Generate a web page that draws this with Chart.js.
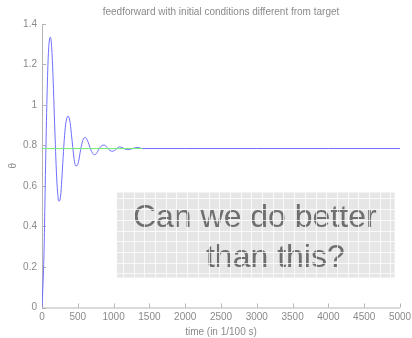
<!DOCTYPE html>
<html>
<head>
<meta charset="utf-8">
<script src="https://cdn.jsdelivr.net/npm/chart.js@4.4.1/dist/chart.umd.min.js"></script>
<style>
  html, body { margin: 0; padding: 0; background: #ffffff; }
  #wrap { width: 412px; height: 338px; position: relative; }
</style>
</head>
<body>
<div id="wrap"><canvas id="c" width="412" height="338"></canvas></div>
<script>
// Simulated joint angle under feedforward control (time in 1/100 s)
const timeSteps = [0, 10, 20, 30, 40, 50, 60, 70, 80, 90, 100, 115, 130, 145, 160, 175, 190, 205, 220, 235, 250,
  265, 280, 300, 320, 340, 365, 390, 410, 430, 450, 470, 490, 510, 540, 570, 605, 640, 670, 700, 730, 760,
  800, 840, 870, 910, 950, 990, 1030, 1080, 1120, 1170, 1220, 1280, 1340, 1400, 2000, 3000, 4000, 5000];
const thetaValues = [0, 0.08, 0.17, 0.30, 0.50, 0.70, 0.88, 1.04, 1.17, 1.26, 1.31, 1.335, 1.31, 1.22, 1.08, 0.92, 0.77,
  0.64, 0.56, 0.525, 0.53, 0.57, 0.65, 0.77, 0.87, 0.925, 0.945, 0.92, 0.86, 0.79, 0.73, 0.70, 0.70, 0.72,
  0.78, 0.825, 0.84, 0.82, 0.79, 0.765, 0.755, 0.76, 0.785, 0.80, 0.802, 0.79, 0.775, 0.772, 0.78, 0.793,
  0.79, 0.781, 0.78, 0.787, 0.79, 0.785, 0.785, 0.785, 0.785, 0.785];

// Target angle
const targetTimes = [0, 1400];
const targetValues = [0.785, 0.785];

// Axis ticks
const xTicks = [0, 500, 1000, 1500, 2000, 2500, 3000, 3500, 4000, 4500, 5000];
const yTicks = [0, 0.2, 0.4, 0.6, 0.8, 1, 1.2, 1.4];

const titleText = 'feedforward with initial conditions different from target';
const xLabel = 'time (in 1/100 s)';
const yLabel = 'θ';
const noteLines = ['Can we do better', 'than this?'];

const FONT = '"Liberation Sans", Arial, Helvetica, sans-serif';
const axisColor = '#b4b4b4';
const textColor = '#8a8a8a';

function toPoints(xs, ys) { return xs.map((x, i) => ({ x: x, y: ys[i] })); }

// Inward tick marks, axis lines, title and the note box
const decorPlugin = {
  id: 'decor',
  beforeDatasetsDraw(chart) {
    const { ctx, chartArea: a, scales: { x, y } } = chart;
    ctx.save();
    ctx.strokeStyle = axisColor;
    ctx.lineWidth = 1;
    ctx.beginPath();
    ctx.moveTo(a.left + 0.5, a.top);
    ctx.lineTo(a.left + 0.5, a.bottom + 0.5);
    ctx.lineTo(a.right, a.bottom + 0.5);
    xTicks.forEach(v => {
      const px = Math.round(x.getPixelForValue(v)) + 0.5;
      ctx.moveTo(px, a.bottom);
      ctx.lineTo(px, a.bottom - 4);
    });
    yTicks.forEach(v => {
      const py = Math.round(y.getPixelForValue(v)) + 0.5;
      ctx.moveTo(a.left, py);
      ctx.lineTo(a.left + 4, py);
    });
    ctx.stroke();

    ctx.fillStyle = textColor;
    ctx.font = '10px ' + FONT;
    ctx.textAlign = 'center';
    ctx.textBaseline = 'middle';
    ctx.fillText(titleText, (a.left + a.right) / 2, 12);
    ctx.restore();
  },
  afterDatasetsDraw(chart) {
    const { ctx, scales: { x, y } } = chart;
    const x0 = x.getPixelForValue(1047), x1 = x.getPixelForValue(4925);
    const y0 = y.getPixelForValue(0.568), y1 = y.getPixelForValue(0.148);
    ctx.save();
    ctx.fillStyle = '#e6e6e6';
    ctx.fillRect(x0, y0, x1 - x0, y1 - y0);

    ctx.fillStyle = '#6e6e6e';
    ctx.font = '32px ' + FONT;
    ctx.textAlign = 'left';
    ctx.textBaseline = 'alphabetic';
    ctx.fillText(noteLines[0], x.getPixelForValue(1270), y.getPixelForValue(0.400));
    ctx.fillText(noteLines[1], x.getPixelForValue(2290), y.getPixelForValue(0.200));

    // light hatch grid over the note
    ctx.beginPath();
    ctx.rect(x0, y0, x1 - x0, y1 - y0);
    ctx.clip();
    ctx.strokeStyle = 'rgba(255,255,255,0.75)';
    ctx.lineWidth = 1;
    ctx.beginPath();
    for (let gx = x0 + 6; gx < x1; gx += 10.7) {
      ctx.moveTo(Math.round(gx) + 0.5, y0);
      ctx.lineTo(Math.round(gx) + 0.5, y1);
    }
    for (let gy = y0 + 6; gy < y1; gy += 10.7) {
      ctx.moveTo(x0, Math.round(gy) + 0.5);
      ctx.lineTo(x1, Math.round(gy) + 0.5);
    }
    ctx.stroke();
    ctx.restore();
  }
};

new Chart(document.getElementById('c'), {
  type: 'line',
  data: {
    datasets: [
      {
        label: 'target',
        data: toPoints(targetTimes, targetValues),
        borderColor: '#74ee74',
        borderWidth: 1,
        pointRadius: 0,
        tension: 0
      },
      {
        label: 'theta',
        data: toPoints(timeSteps, thetaValues),
        borderColor: '#6e6eff',
        borderWidth: 1,
        pointRadius: 0,
        cubicInterpolationMode: 'monotone'
      }
    ]
  },
  plugins: [decorPlugin],
  options: {
    responsive: false,
    animation: false,
    devicePixelRatio: 1,
    layout: { padding: { top: 24, right: 12, left: 7, bottom: 0 } },
    plugins: { legend: { display: false }, tooltip: { enabled: false }, title: { display: false } },
    scales: {
      x: {
        type: 'linear',
        min: 0, max: 5000,
        afterBuildTicks(scale) { scale.ticks = xTicks.map(v => ({ value: v })); },
        afterFit(scale) { scale.height = 30.5; scale.paddingLeft = 0; scale.paddingRight = 0; },
        grid: { display: false, drawTicks: false },
        border: { display: false },
        ticks: {
          color: textColor, font: { size: 10, family: FONT }, padding: 4,
          maxRotation: 0, autoSkip: false,
          callback: v => String(v)
        },
        title: {
          display: true, text: xLabel, color: textColor,
          font: { size: 10, family: FONT }, padding: { top: 1, bottom: 0 }
        }
      },
      y: {
        type: 'linear',
        min: 0, max: 1.4,
        afterBuildTicks(scale) { scale.ticks = yTicks.map(v => ({ value: v })); },
        afterFit(scale) { scale.width = 35; scale.paddingTop = 0; scale.paddingBottom = 0; },
        grid: { display: false, drawTicks: false },
        border: { display: false },
        ticks: {
          color: textColor, font: { size: 10, family: FONT }, padding: 5,
          autoSkip: false,
          callback: v => String(Math.round(v * 10) / 10)
        },
        title: {
          display: true, text: yLabel, color: textColor,
          font: { size: 10, family: FONT }, padding: { top: 0, bottom: 0 }
        }
      }
    }
  }
});
</script>
</body>
</html>
